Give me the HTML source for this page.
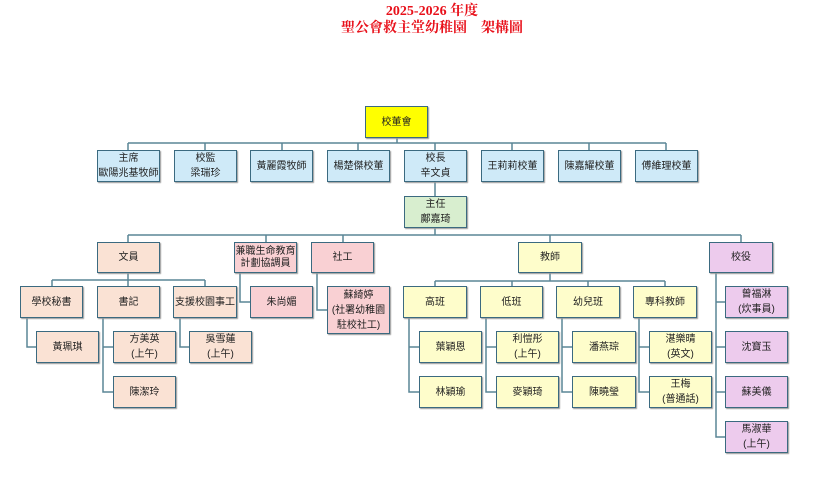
<!DOCTYPE html>
<html><head><meta charset="utf-8"><style>
body{margin:0;width:820px;height:500px;background:#fff;position:relative;overflow:hidden;font-family:"Liberation Sans","Noto Sans CJK TC",sans-serif}
.t{position:absolute;left:0;width:864px;text-align:center;color:#e8101a;font-weight:bold;font-size:14px;font-family:"Liberation Serif","Noto Serif CJK SC",serif}
.b{position:absolute;box-sizing:border-box;border:1.5px solid #3b6a80;display:flex;align-items:center;justify-content:center;text-align:center;font-size:10px;line-height:15px;color:#222;box-shadow:1px 1px 1px #999}
.bl{background:#cfeaf8}.ye{background:#ffff00}.gr{background:#d8eecf}.pe{background:#fae2d4}.pk{background:#f9d0d3}.ly{background:#fefdcb}.lv{background:#edcbed}
svg{position:absolute;left:0;top:0}
</style></head><body>
<div class="t" style="top:0">2025-2026 年度</div>
<div class="t" style="top:17px">聖公會救主堂幼稚園　架構圖</div>
<svg width="820" height="500" stroke="#5a8596" stroke-width="1.5" fill="none">
<path d="M397 138V143M128 143H666M128 143V150M205 143V150M282 143V150M358 143V150M435 143V150M512 143V150M589 143V150M666 143V150"/>
<path d="M435 182V196M435 228V235M128 235H741M128 235V242M266 235V242M343 235V242M550 235V242M741 235V242"/>
<path d="M128 273V280M52 280H205M52 280V286M128 280V286M205 280V286"/>
<path d="M27 318V347H36M103 318V392H113M103 347H113M180 318V347H189"/>
<path d="M240 273V302H250M317 273V310H327"/>
<path d="M550 273V281M435 281H665M435 281V286M512 281V286M588 281V286M665 281V286"/>
<path d="M409 318V392H419M409 347H419M486 318V392H496M486 347H496M562 318V392H572M562 347H572M639 318V392H649M639 347H649"/>
<path d="M716 273V437H725M716 302H725M716 347H725M716 392H725"/>
</svg>
<div class="b ye" style="left:365px;top:106px;width:63px;height:32px">校董會</div>
<div class="b bl" style="left:97px;top:150px;width:63px;height:32px">主席<br>歐陽兆基牧師</div>
<div class="b bl" style="left:174px;top:150px;width:63px;height:32px">校監<br>梁瑞珍</div>
<div class="b bl" style="left:250px;top:150px;width:63px;height:32px">黃麗霞牧師</div>
<div class="b bl" style="left:327px;top:150px;width:63px;height:32px">楊楚傑校董</div>
<div class="b bl" style="left:404px;top:150px;width:63px;height:32px">校長<br>辛文貞</div>
<div class="b bl" style="left:481px;top:150px;width:63px;height:32px">王莉莉校董</div>
<div class="b bl" style="left:558px;top:150px;width:63px;height:32px">陳嘉耀校董</div>
<div class="b bl" style="left:635px;top:150px;width:63px;height:32px">傅維理校董</div>
<div class="b gr" style="left:404px;top:196px;width:63px;height:32px">主任<br>鄺嘉琦</div>
<div class="b pe" style="left:97px;top:242px;width:63px;height:31px">文員</div>
<div class="b pk" style="left:234px;top:242px;width:63px;height:31px;line-height:12px">兼職生命教育<br>計劃協調員</div>
<div class="b pk" style="left:311px;top:242px;width:63px;height:31px">社工</div>
<div class="b ly" style="left:518px;top:242px;width:64px;height:31px">教師</div>
<div class="b lv" style="left:709px;top:242px;width:64px;height:31px">校役</div>
<div class="b pe" style="left:20px;top:286px;width:63px;height:32px">學校秘書</div>
<div class="b pe" style="left:97px;top:286px;width:63px;height:32px">書記</div>
<div class="b pe" style="left:173px;top:286px;width:64px;height:32px">支援校園事工</div>
<div class="b pk" style="left:250px;top:286px;width:63px;height:32px">朱尚媚</div>
<div class="b pk" style="left:327px;top:286px;width:63px;height:48px">蘇綺婷<br>(社署幼稚園<br>駐校社工)</div>
<div class="b pe" style="left:36px;top:331px;width:63px;height:32px">黃珮琪</div>
<div class="b pe" style="left:113px;top:331px;width:63px;height:32px">方美英<br>(上午)</div>
<div class="b pe" style="left:189px;top:331px;width:63px;height:32px">吳雪蓮<br>(上午)</div>
<div class="b pe" style="left:113px;top:376px;width:63px;height:32px">陳潔玲</div>
<div class="b ly" style="left:403px;top:286px;width:64px;height:32px">高班</div>
<div class="b ly" style="left:480px;top:286px;width:63px;height:32px">低班</div>
<div class="b ly" style="left:556px;top:286px;width:64px;height:32px">幼兒班</div>
<div class="b ly" style="left:633px;top:286px;width:64px;height:32px">專科教師</div>
<div class="b ly" style="left:419px;top:331px;width:63px;height:32px">葉穎恩</div>
<div class="b ly" style="left:496px;top:331px;width:63px;height:32px">利愷彤<br>(上午)</div>
<div class="b ly" style="left:572px;top:331px;width:64px;height:32px">潘燕琮</div>
<div class="b ly" style="left:649px;top:331px;width:63px;height:32px">湛樂晴<br>(英文)</div>
<div class="b ly" style="left:419px;top:376px;width:63px;height:32px">林穎瑜</div>
<div class="b ly" style="left:496px;top:376px;width:63px;height:32px">麥穎琦</div>
<div class="b ly" style="left:572px;top:376px;width:64px;height:32px">陳曉瑩</div>
<div class="b ly" style="left:649px;top:376px;width:63px;height:32px">王梅<br>(普通話)</div>
<div class="b lv" style="left:725px;top:286px;width:63px;height:32px">曾福淋<br>(炊事員)</div>
<div class="b lv" style="left:725px;top:331px;width:63px;height:32px">沈寶玉</div>
<div class="b lv" style="left:725px;top:376px;width:63px;height:32px">蘇美儀</div>
<div class="b lv" style="left:725px;top:421px;width:63px;height:32px">馬淑華<br>(上午)</div>
</body></html>
